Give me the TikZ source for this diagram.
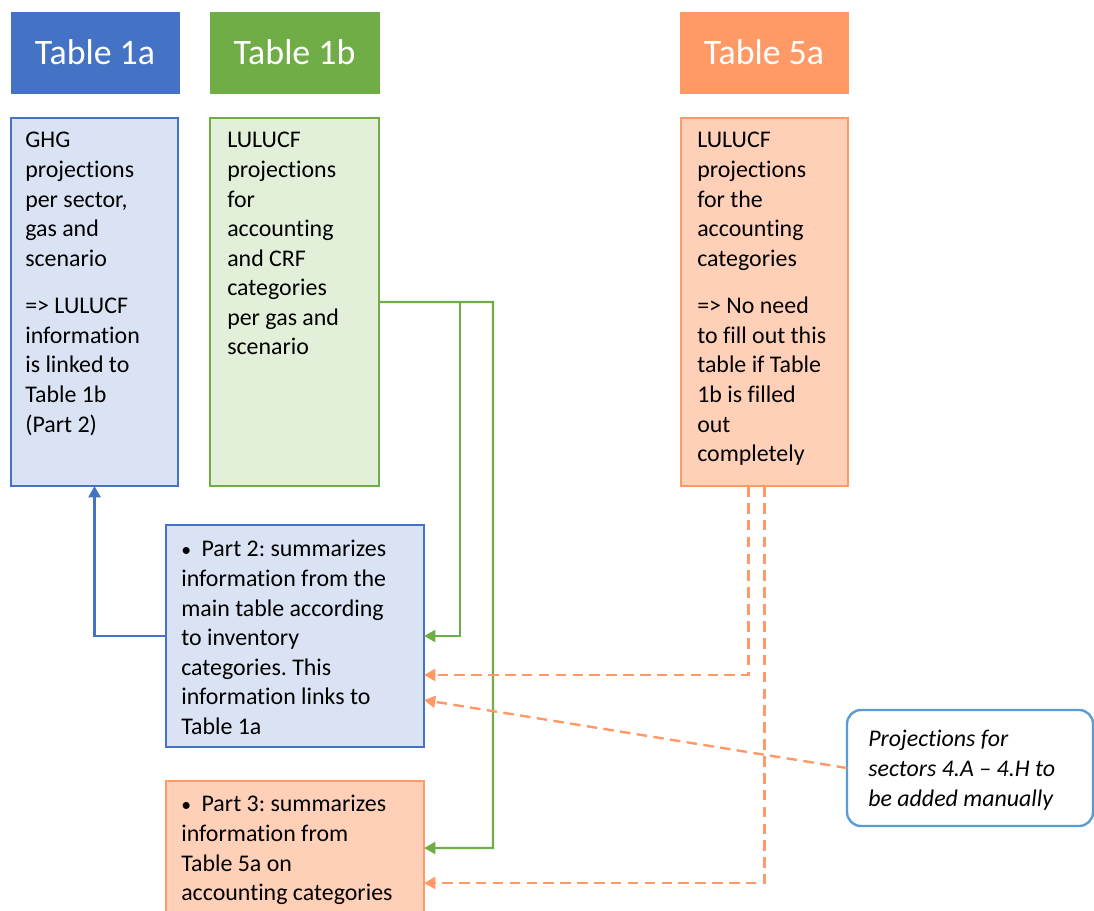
\documentclass[tikz,border=0pt]{standalone}
\usepackage{fontspec}
\setmainfont[Ligatures=NoCommon]{Carlito}
\usepackage{tikz}
\usetikzlibrary{positioning}
\usetikzlibrary{arrows.meta}
\usetikzlibrary{calc}
\frenchspacing
\definecolor{tabblue}{HTML}{4472C4}
\definecolor{tabbluelight}{HTML}{DAE3F3}
\definecolor{tabgreen}{HTML}{70AD47}
\definecolor{tabgreenlight}{HTML}{E2F0D9}
\definecolor{taborange}{HTML}{FF9966}
\definecolor{taborangelight}{HTML}{FFD0B8}
\definecolor{noteblue}{HTML}{5B9BD5}
\newcommand{\boxfont}{\fontsize{17}{21}\selectfont}
\newcommand{\partbullet}{{\fontsize{14}{21}\selectfont\textbullet}\hspace{7.5pt}}
\tikzset{header/.style={rectangle, draw=#1, fill=#1, text=white, anchor=north west, inner sep=0pt, outer sep=0pt, font=\fontsize{25.5}{30}\selectfont}}
\tikzset{tablebox/.style={rectangle, draw=#1, line width=1.7pt, anchor=north west, inner sep=0pt, outer sep=0pt}}
\tikzset{boxtext/.style={anchor=north west, inner sep=0pt, align=left, font=\boxfont}}
\tikzset{link/.style={line width=1.7pt, draw=#1, -{Triangle[length=8pt,width=8.5pt]}}}
\tikzset{dashlink/.style={link=taborange, dash pattern=on 7.5pt off 4.5pt}}

\begin{document}
\begin{tikzpicture}[x=0.025cm, y=-0.025cm]
        \useasboundingbox (0,0) rectangle (1094,911);

        % table headers
        \node [header=tabblue, minimum width=4.2cm, minimum height=2.025cm](head1a) at (11,12) {Table 1a};
        \node [header=tabgreen, minimum width=4.225cm, minimum height=2.025cm](head1b) at (210,12) {Table 1b};
        \node [header=taborange, minimum width=4.2cm, minimum height=2.025cm](head5a) at (680,12) {Table 5a};

        % content boxes
        \node [tablebox=tabblue, fill=tabbluelight, minimum width=4.175cm, minimum height=9.2cm](ghg) at (11,118) {};
        \node [tablebox=tabgreen, fill=tabgreenlight, minimum width=4.225cm, minimum height=9.2cm](lulucf) at (210,118) {};
        \node [tablebox=taborange, fill=taborangelight, minimum width=4.175cm, minimum height=9.2cm](acct) at (681,118) {};
        \node [tablebox=tabblue, fill=tabbluelight, minimum width=6.45cm, minimum height=5.55cm](part2) at (166,525) {};
        \node [tablebox=taborange, fill=taborangelight, minimum width=6.45cm, minimum height=3.35cm](part3) at (166,781) {};
        \node [tablebox=noteblue, fill=white, rounded corners=0.35cm, minimum width=6.15cm, minimum height=2.9cm](note) at (847,710) {};

        % box texts
        \node [boxtext](ghgtext) at (25,127) {\strut GHG\\ projections\\ per sector,\\ gas and\\ scenario\\[13pt] => LULUCF\\ information\\ is linked to\\ Table 1b\\ (Part 2)};
        \node [boxtext](lulucftext) at (227,127) {\strut LULUCF\\ projections\\ for\\ accounting\\ and CRF\\ categories\\ per gas and\\ scenario};
        \node [boxtext](accttext) at (697,127) {\strut LULUCF\\ projections\\ for the\\ accounting\\ categories\\[13pt] => No need\\ to fill out this\\ table if Table\\ 1b is filled\\ out\\ completely};
        \node [boxtext](part2text) at (181,536) {\strut\partbullet Part 2: summarizes\\ information from the\\ main table according\\ to inventory\\ categories. This\\ information links to\\ Table 1a};
        \node [boxtext](part3text) at (181,791) {\strut\partbullet Part 3: summarizes\\ information from\\ Table 5a on\\ accounting categories};
        \node [boxtext, font=\boxfont\itshape](notetext) at (868,726) {\strut Projections for\\ sectors 4.A -- 4.H to\\ be added manually};

        % connectors
        \coordinate (tap1) at (460,302);
        \coordinate (tap2) at (493,302);
        \draw [link=tabblue] (part2.west) -| (ghg.south);
        \draw [link=tabgreen] (lulucf.east) -- (tap2) |- (part3.east);
        \draw [link=tabgreen] (tap1) |- (part2.east);
        \draw [dashlink] ($(acct.south)+(-16,0)$) |- ($(part2.east)+(0,39)$);
        \draw [dashlink] (acct.south) |- ($(part3.east)+(0,35)$);
        \draw [dashlink] (note.west) -- ($(part2.east)+(0,64)$);
\end{tikzpicture}
\end{document}
